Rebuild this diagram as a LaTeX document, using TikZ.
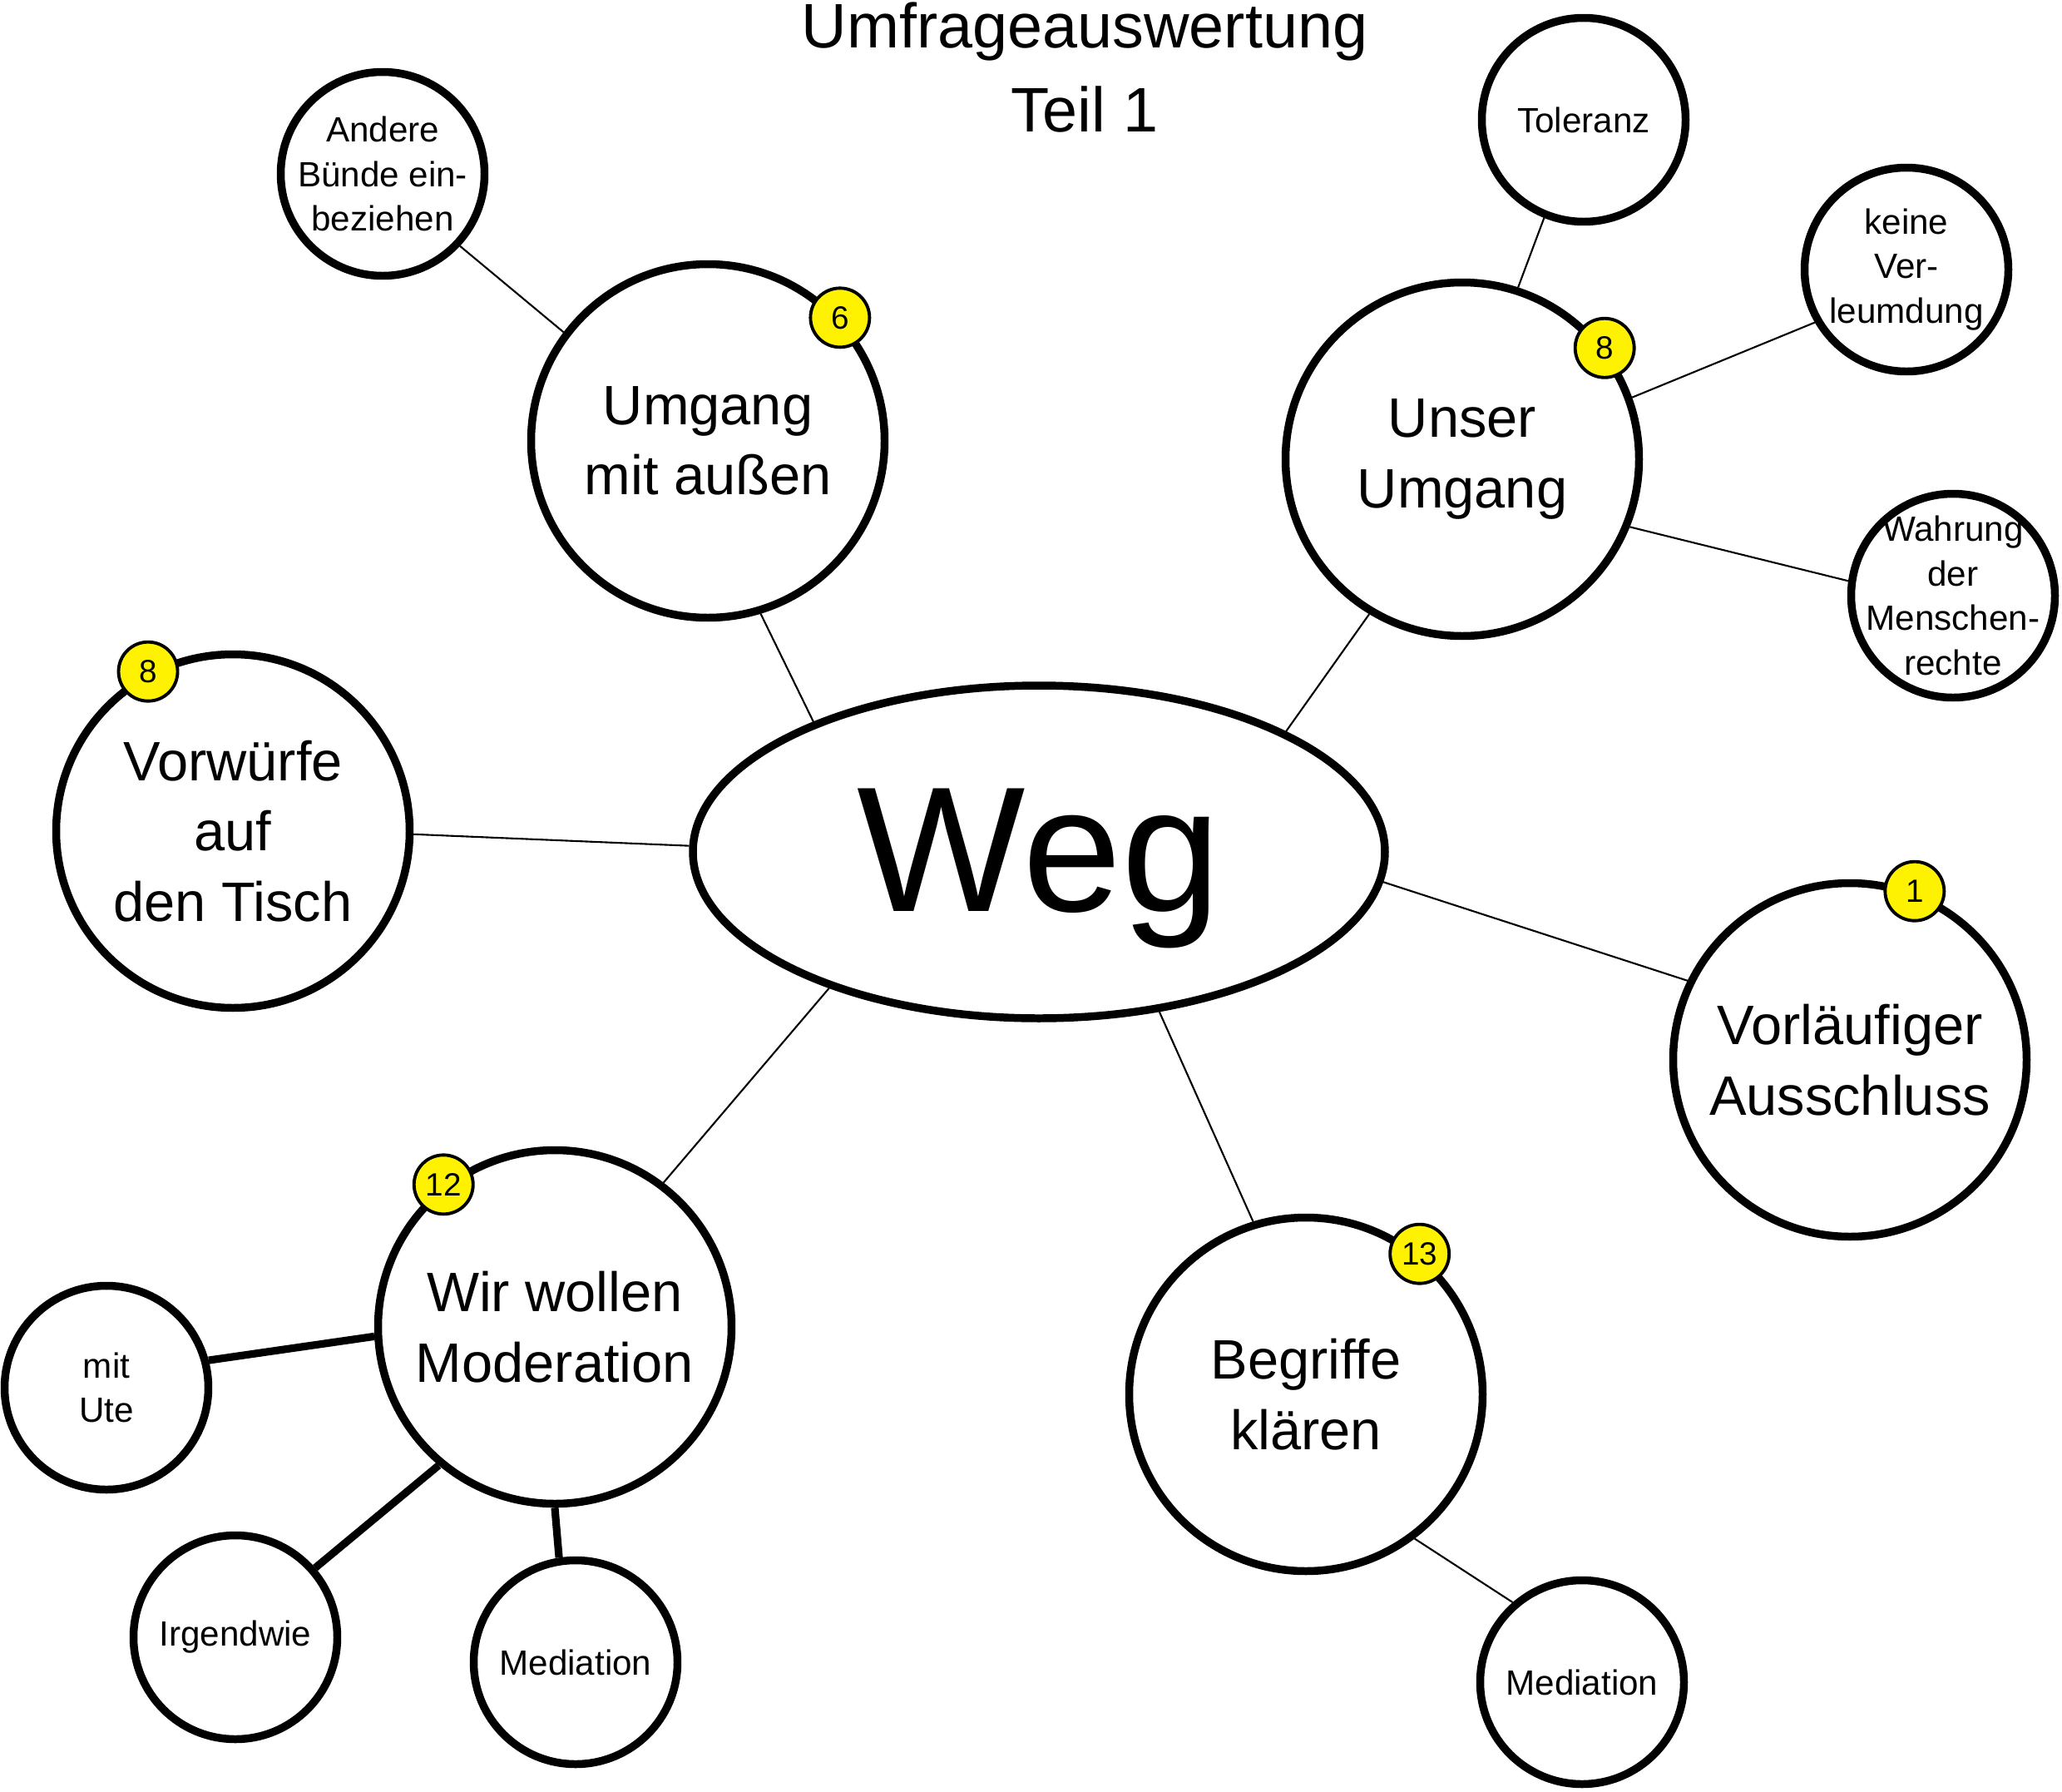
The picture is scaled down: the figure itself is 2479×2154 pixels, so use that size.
\documentclass[tikz,border=0pt]{standalone}
\usepackage{fontspec}
\setmainfont{Liberation Sans}
\usepackage{tikz}
\usetikzlibrary{shapes.geometric}

\begin{document}
\begin{tikzpicture}[
  x=0.1mm, y=-0.1mm,
  big/.style={draw, circle, line width=2.7pt, minimum size=4.25cm, inner sep=0pt, align=center, font=\fontsize{19}{24}\selectfont},
  sub/.style={draw, circle, line width=2.7pt, minimum size=2.45cm, inner sep=-4mm, align=center, font=\fontsize{12}{15.3}\selectfont},
  badge/.style={draw, circle, line width=1.1pt, fill=yellow, minimum size=0.71cm, inner sep=0pt, font=\fontsize{11}{13}\selectfont},
  thin/.style={line width=0.6pt},
  fat/.style={line width=2.6pt}
]
  \useasboundingbox (0,0) rectangle (2479,2154);

  % Titel
  \node[align=center, font=\fontsize{21.5}{28.7}\selectfont] (titel) at (1304, 81) {Umfrageauswertung\\Teil 1};

  % Mitte
  \node[draw, ellipse, line width=2.7pt, minimum width=8.32cm, minimum height=4.0cm, inner sep=0pt, text depth=0.13em, font=\fontsize{61}{70}\selectfont] (weg) at (1249, 1024) {Weg};

  % Hauptthemen
  \node[big] (umgang)     at ( 851,  530) {Umgang\\mit außen};
  \node[big] (unser)      at (1758,  552) {Unser\\Umgang};
  \node[big] (vorwuerfe)  at ( 280,  999) {Vorwürfe\\auf\\den Tisch};
  \node[big] (ausschluss) at (2224, 1274) {Vorläufiger\\Ausschluss};
  \node[big] (moderation) at ( 667, 1595) {Wir wollen\\Moderation};
  \node[big] (begriffe)   at (1570, 1676) {Begriffe\\klären};

  % Unterpunkte
  \node[sub] (andere)    at ( 460,  209) {Andere\\Bünde ein-\\beziehen};
  \node[sub] (toleranz)  at (1904,  144) {Toleranz};
  \node[sub] (keine)     at (2292,  324) {keine\\Ver-\\leumdung};
  \node[sub] (wahrung)   at (2348,  716) {Wahrung\\der\\Menschen-\\rechte};
  \node[sub] (ute)       at ( 128, 1668) {mit\\Ute};
  \node[sub] (irgendwie) at ( 283, 1968) {Irgendwie};
  \node[sub] (medlinks)  at ( 692, 1998) {Mediation};
  \node[sub] (medrechts) at (1902, 2022) {Mediation};

  % Stimmen
  \node[badge] (n6)  at (umgang.43.5)    {6};
  \node[badge] (n8a) at (unser.38)       {8};
  \node[badge] (n8b) at (vorwuerfe.118)  {8};
  \node[badge] (n1)  at (ausschluss.69)  {1};
  \node[badge] (n12) at (moderation.128) {12};
  \node[badge] (n13) at (begriffe.51)    {13};

  % Verbindungen
  \draw[thin] (weg.150.8) -- (umgang.287);
  \draw[thin] (weg.26.3) -- (unser.239.5);
  \draw[thin] (weg.179.6) -- (vorwuerfe.-1.3);
  \draw[thin] (weg.-5.2) -- (ausschluss.154.6);
  \draw[thin] (weg.213) -- (moderation.53.5);
  \draw[thin] (weg.307) -- (begriffe.107.3);

  \draw[thin] (umgang.143.6) -- (andere.-43.6);
  \draw[thin] (unser.72.6) -- (toleranz.248.5);
  \draw[thin] (unser.20) -- (keine.210.7);
  \draw[thin] (unser.-22.5) -- (wahrung.172);
  \draw[thin] (begriffe.-53.9) -- (medrechts.131.9);

  \draw[fat] (moderation.183.8) -- (ute.15.6);
  \draw[fat] (moderation.230.9) -- (irgendwie.41.5);
  \draw[fat] (moderation.270.4) -- (medlinks.99.5);
\end{tikzpicture}
\end{document}
